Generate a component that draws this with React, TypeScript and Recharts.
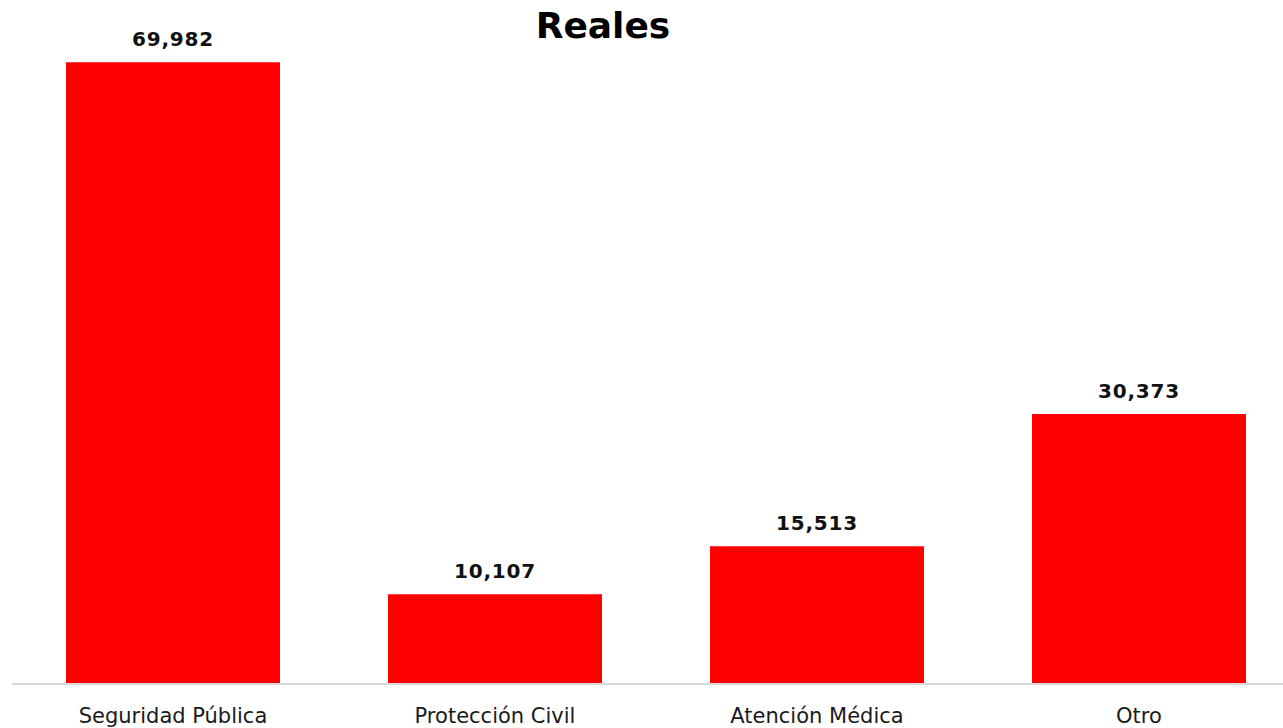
import { BarChart, Bar, XAxis, YAxis, LabelList } from 'recharts'

const categories = ['Seguridad Pública', 'Protección Civil', 'Atención Médica', 'Otro']
const reales = [69982, 10107, 15513, 30373]
const yMax = 70000

const rows = categories.map((name, i) => ({ name, value: reales[i] }))

const FONT = '"DejaVu Sans", Verdana, sans-serif'

export default function App() {
  return (
    <div
      style={{
        position: 'absolute',
        left: 0,
        top: 0,
        width: 1283,
        height: 728,
        overflow: 'hidden',
        background: '#fff',
        fontFamily: FONT,
      }}
    >
      <div
        style={{
          position: 'absolute',
          left: 403,
          width: 400,
          top: 2,
          textAlign: 'center',
          fontSize: 36,
          fontWeight: 'bold',
          color: '#000',
          lineHeight: '48px',
        }}
      >
        Reales
      </div>
      <BarChart
        width={1300}
        height={728}
        data={rows}
        margin={{ top: 62, right: 0, left: 12, bottom: 0 }}
        barCategoryGap={54}
      >
        <XAxis
          dataKey="name"
          height={44}
          tickSize={0}
          tickMargin={24}
          axisLine={{ stroke: '#d9d9d9', strokeWidth: 2 }}
          tickLine={false}
          tick={{ fontSize: 21, fill: '#1a1a1a', fontFamily: FONT }}
          interval={0}
        />
        <YAxis hide domain={[0, yMax]} />
        <Bar dataKey="value" fill="#ff0000" isAnimationActive={false}>
          <LabelList
            dataKey="value"
            position="top"
            offset={16}
            formatter={(v: number) => Number(v).toLocaleString('en-US')}
            fontSize={20}
            fontWeight="bold"
            fill="#111"
            fontFamily={FONT}
            letterSpacing={0.8}
          />
        </Bar>
      </BarChart>
    </div>
  )
}
